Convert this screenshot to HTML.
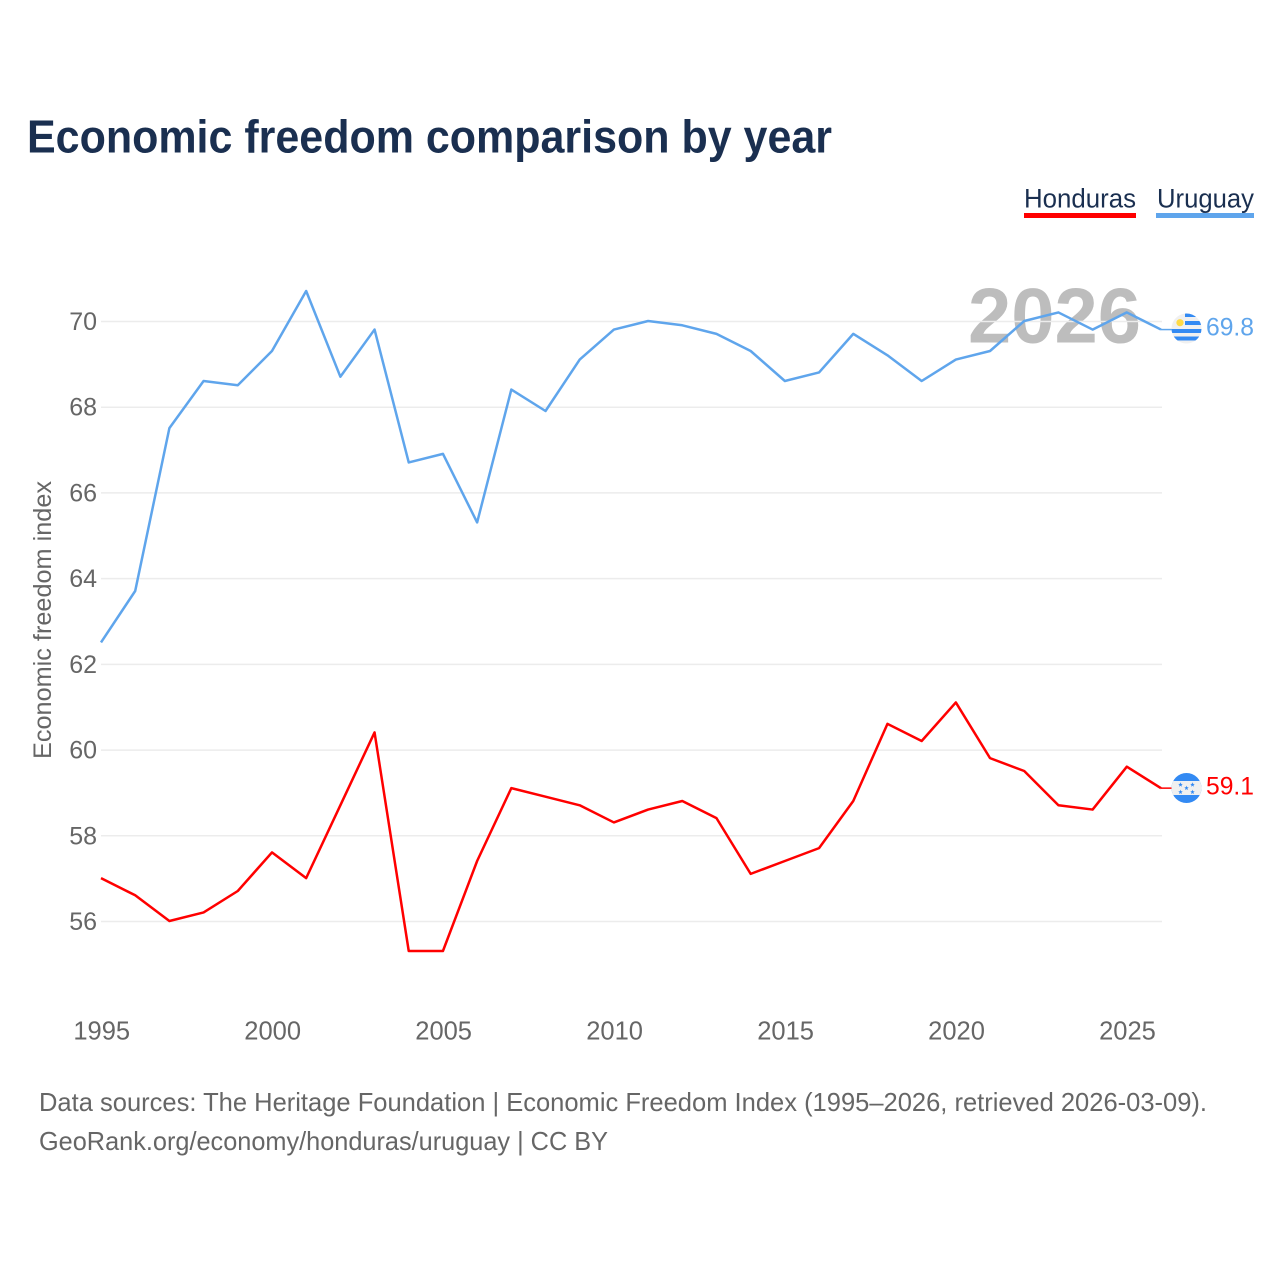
<!DOCTYPE html>
<html>
<head>
<meta charset="utf-8">
<title>Economic freedom comparison by year</title>
<style>
html,body{margin:0;padding:0;background:#fff}
svg{display:block}
text{font-family:"Liberation Sans",sans-serif}
</style>
</head>
<body>
<svg id="chart" width="1280" height="1280" viewBox="0 0 1280 1280" xmlns="http://www.w3.org/2000/svg">
  <defs>
    <clipPath id="clip-uy"><circle cx="1186.5" cy="328.5" r="15"/></clipPath>
    <clipPath id="clip-hn"><circle cx="1186.5" cy="788" r="15"/></clipPath>
    <polygon id="flag-star" points="0,-2.4 0.6,-0.8 2.3,-0.7 1,0.3 1.4,2 0,1.1 -1.4,2 -1,0.3 -2.3,-0.7 -0.6,-0.8" fill="#338af3"/>
  </defs>
  <rect x="0" y="0" width="1280" height="1280" fill="#fff"/>
  <text x="27" y="152.5" font-size="46" font-weight="700" fill="#1a2f50" textLength="805" lengthAdjust="spacingAndGlyphs">Economic freedom comparison by year</text>

  <text x="1024" y="207.5" font-size="27" fill="#1a2f50" textLength="112" lengthAdjust="spacingAndGlyphs">Honduras</text>
  <rect x="1024" y="213" width="112" height="5" fill="#ff0000"/>
  <text x="1157" y="207.5" font-size="27" fill="#1a2f50" textLength="97" lengthAdjust="spacingAndGlyphs">Uruguay</text>
  <rect x="1156" y="213" width="98" height="5" fill="#5fa5ec"/>

  <text x="968" y="342.5" font-size="78" font-weight="700" fill="#bdbdbd" textLength="173" lengthAdjust="spacingAndGlyphs">2026</text>

  <g id="grid"></g>
  <g id="y-ticks"></g>
  <g id="x-ticks"></g>

  <text transform="translate(51,759) rotate(-90)" x="0" y="0" font-size="25" fill="#666" textLength="278" lengthAdjust="spacingAndGlyphs">Economic freedom index</text>

  <polyline id="line-uruguay" fill="none" stroke="#5fa5ec" stroke-width="2.5" stroke-linejoin="round"/>
  <polyline id="line-honduras" fill="none" stroke="#ff0000" stroke-width="2.5" stroke-linejoin="round"/>

  <line id="connector-uruguay" x1="1161" x2="1172" stroke="#5fa5ec" stroke-width="1.5"/>
  <line id="connector-honduras" x1="1161" x2="1172" stroke="#ff0000" stroke-width="1.5"/>

  <g clip-path="url(#clip-uy)">
    <rect x="1171" y="313" width="32" height="32" fill="#f0f0f0"/>
    <rect x="1185" y="313" width="18" height="4" fill="#338af3"/>
    <rect x="1185" y="321" width="18" height="4" fill="#338af3"/>
    <rect x="1171" y="329" width="32" height="4" fill="#338af3"/>
    <rect x="1171" y="336.5" width="32" height="4" fill="#338af3"/>
    <circle cx="1180" cy="322.7" r="3.6" fill="#ffda44"/>
  </g>
  <text id="end-label-uruguay" x="1206" y="335.5" font-size="25" fill="#5fa5ec" textLength="48" lengthAdjust="spacingAndGlyphs">69.8</text>

  <g clip-path="url(#clip-hn)">
    <rect x="1171" y="772" width="32" height="32" fill="#338af3"/>
    <rect x="1171" y="781" width="32" height="14" fill="#f0f0f0"/>
    <use href="#flag-star" x="1180.5" y="784.7"/>
    <use href="#flag-star" x="1192.5" y="784.7"/>
    <use href="#flag-star" x="1186.5" y="788"/>
    <use href="#flag-star" x="1180.5" y="792"/>
    <use href="#flag-star" x="1192.5" y="792"/>
  </g>
  <text id="end-label-honduras" x="1206" y="794.5" font-size="25" fill="#ff0000" textLength="48" lengthAdjust="spacingAndGlyphs">59.1</text>

  <text x="39" y="1111" font-size="26" fill="#666" textLength="1168" lengthAdjust="spacingAndGlyphs">Data sources: The Heritage Foundation | Economic Freedom Index (1995–2026, retrieved 2026-03-09).</text>
  <text x="39" y="1150" font-size="26" fill="#666" textLength="569" lengthAdjust="spacingAndGlyphs">GeoRank.org/economy/honduras/uruguay | CC BY</text>
</svg>
<script>
var years = [1995,1996,1997,1998,1999,2000,2001,2002,2003,2004,2005,2006,2007,2008,2009,2010,2011,2012,2013,2014,2015,2016,2017,2018,2019,2020,2021,2022,2023,2024,2025,2026];
var uruguay = [62.5,63.7,67.5,68.6,68.5,69.3,70.7,68.7,69.8,66.7,66.9,65.3,68.4,67.9,69.1,69.8,70.0,69.9,69.7,69.3,68.6,68.8,69.7,69.2,68.6,69.1,69.3,70.0,70.2,69.8,70.2,69.8];
var honduras = [57.0,56.6,56.0,56.2,56.7,57.6,57.0,58.7,60.4,55.3,55.3,57.4,59.1,58.9,58.7,58.3,58.6,58.8,58.4,57.1,57.4,57.7,58.8,60.6,60.2,61.1,59.8,59.5,58.7,58.6,59.6,59.1];
var yTickLabels = [56,58,60,62,64,66,68,70];
var xTickLabels = [1995,2000,2005,2010,2015,2020,2025];

var NS = 'http://www.w3.org/2000/svg';
function xScale(year){ return 101 + (year - 1995) * (1161 - 101) / (2026 - 1995); }
function yScale(v){ return 321 + (70 - v) * (921 - 321) / (70 - 56); }
function points(values){
  return values.map(function(v, i){ return xScale(years[i]).toFixed(2) + ',' + yScale(v).toFixed(2); }).join(' ');
}

var gridGroup = document.getElementById('grid');
var yGroup = document.getElementById('y-ticks');
var xGroup = document.getElementById('x-ticks');

yTickLabels.forEach(function(t){
  var line = document.createElementNS(NS, 'line');
  
  
  line.setAttribute('x1', 101);
  line.setAttribute('x2', 1162);
  line.setAttribute('y1', yScale(t) + 0.5);
  line.setAttribute('y2', yScale(t) + 0.5);
  line.setAttribute('stroke', '#ececec');
  line.setAttribute('stroke-width', '1.5');
  gridGroup.appendChild(line);

  var label = document.createElementNS(NS, 'text');
  
  
  label.setAttribute('x', 97);
  label.setAttribute('y', yScale(t) + 9);
  label.setAttribute('text-anchor', 'end');
  label.setAttribute('font-size', '25');
  label.setAttribute('fill', '#666');
  label.textContent = t;
  yGroup.appendChild(label);
});

xTickLabels.forEach(function(t){
  var label = document.createElementNS(NS, 'text');
  
  
  label.setAttribute('x', xScale(t) + 0.7);
  label.setAttribute('y', 1039.5);
  label.setAttribute('text-anchor', 'middle');
  label.setAttribute('font-size', '25.5');
  label.setAttribute('fill', '#666');
  label.textContent = t;
  xGroup.appendChild(label);
});

document.getElementById('line-uruguay').setAttribute('points', points(uruguay));
document.getElementById('line-honduras').setAttribute('points', points(honduras));

var lastUy = uruguay[uruguay.length - 1];
var lastHn = honduras[honduras.length - 1];
var connUy = document.getElementById('connector-uruguay');
connUy.setAttribute('y1', yScale(lastUy));
connUy.setAttribute('y2', yScale(lastUy));
var connHn = document.getElementById('connector-honduras');
connHn.setAttribute('y1', yScale(lastHn));
connHn.setAttribute('y2', yScale(lastHn));
document.getElementById('end-label-uruguay').textContent = lastUy.toFixed(1);
document.getElementById('end-label-honduras').textContent = lastHn.toFixed(1);
</script>
</body>
</html>
